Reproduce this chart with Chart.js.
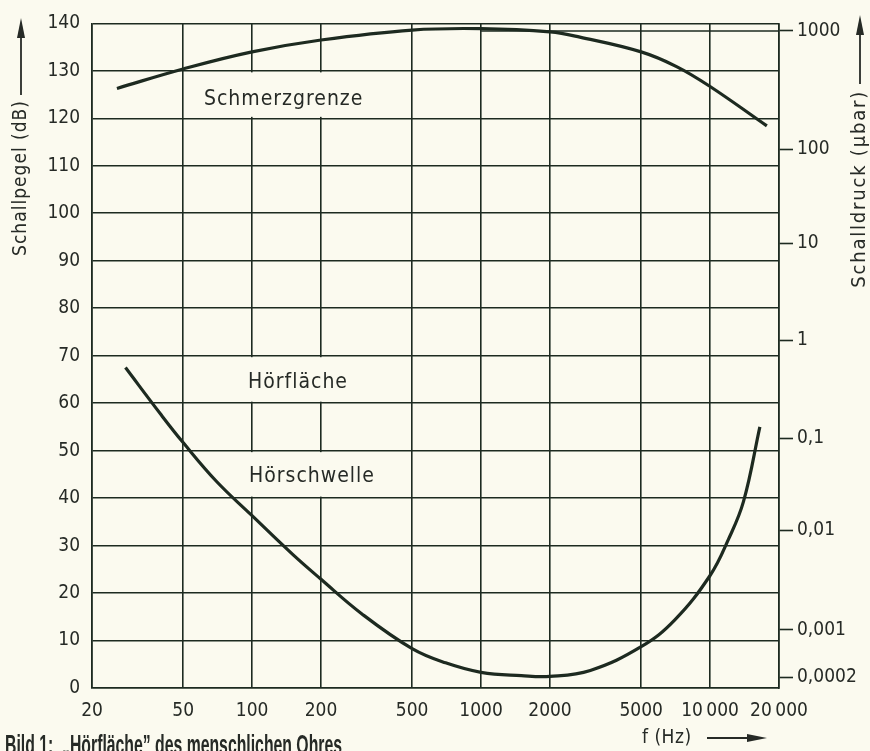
<!DOCTYPE html>
<html>
<head>
<meta charset="utf-8">
<script src="https://cdn.jsdelivr.net/npm/chart.js@4.4.0/dist/chart.umd.min.js"></script>
<style>
  html, body { margin: 0; padding: 0; background: #fbfaef; }
  #wrap { width: 870px; height: 751px; }
</style>
</head>
<body>
<div id="wrap"><canvas id="hoerflaeche" width="870" height="751"></canvas></div>
<script>
// Frequenzachse (log), Pegel links, Schalldruck rechts
const freqTicks = [20, 50, 100, 200, 500, 1000, 2000, 5000, 10000, 20000];
const freqLabels = ['20', '50', '100', '200', '500', '1000', '2000', '5000', '10\u2009000', '20\u2009000'];
const levelTicks = [0, 10, 20, 30, 40, 50, 60, 70, 80, 90, 100, 110, 120, 130, 140];
const pressureTicksDb = [2.3, 12.3, 33.2, 52.6, 73.3, 93.7, 113.5, 138.4];
const pressureLabels = ['0,0002', '0,001', '0,01', '0,1', '1', '10', '100', '1000'];

// Schmerzgrenze
const schmerzFreq = [25.7, 50, 100, 200, 500, 1000, 2000, 2700, 5000, 7140, 10000, 17700];
const schmerzDb = [126.3, 130.4, 134, 136.5, 138.6, 138.9, 138.2, 137.1, 134, 130.9, 126.7, 118.4];

// Hörschwelle
const schwelleFreq = [28, 40, 50, 70, 100, 150, 200, 300, 500, 700, 1000, 1500, 2000, 3000, 5000, 7000, 10000, 12000, 14000, 16500];
const schwelleDb = [67.5, 57.6, 51.7, 43.5, 36.3, 28.2, 22.9, 15.7, 8.3, 5.3, 3.3, 2.6, 2.45, 3.7, 8.7, 14.3, 23.7, 31.2, 39.3, 55];

const bg = '#fbfaef';
const ink = '#1d2a20';
const textInk = '#262a26';
const fontFam = "'DejaVu Sans Condensed', 'DejaVu Sans', sans-serif";

function toPoints(xs, ys) {
    return xs.map(function(x, i) { return { x: x, y: ys[i] }; });
}

function arrow(ctx, x1, y1, x2, y2) {
    const ang = Math.atan2(y2 - y1, x2 - x1);
    const len = 20, half = 4;
    ctx.beginPath();
    ctx.moveTo(x1, y1);
    ctx.lineTo(x2 - Math.cos(ang) * len * 0.8, y2 - Math.sin(ang) * len * 0.8);
    ctx.stroke();
    ctx.beginPath();
    ctx.moveTo(x2, y2);
    ctx.lineTo(x2 - Math.cos(ang) * len - Math.sin(ang) * half, y2 - Math.sin(ang) * len + Math.cos(ang) * half);
    ctx.lineTo(x2 - Math.cos(ang) * len + Math.sin(ang) * half, y2 - Math.sin(ang) * len - Math.cos(ang) * half);
    ctx.closePath();
    ctx.fill();
}

const decorations = {
    id: 'decorations',
    beforeDraw(chart) {
        const ctx = chart.ctx;
        ctx.save();
        ctx.fillStyle = bg;
        ctx.fillRect(0, 0, chart.width, chart.height);
        ctx.restore();
    },
    beforeDatasetsDraw(chart) {
        const ctx = chart.ctx;
        const x = chart.scales.x, y = chart.scales.y, y2 = chart.scales.y2;
        ctx.save();
        // Lücken im Raster hinter den Beschriftungen
        ctx.fillStyle = bg;
        [[120, 130], [60, 70], [40, 50]].forEach(function(b) {
            const top = y.getPixelForValue(b[1]) + 1.5;
            const bot = y.getPixelForValue(b[0]) - 1.5;
            const l = x.getPixelForValue(60), r = x.getPixelForValue(330);
            ctx.fillRect(l, top, r - l, bot - top);
        });
        // Linie bei 1000 µbar
        ctx.strokeStyle = ink;
        ctx.lineWidth = 1.6;
        const yy = y2.getPixelForValue(pressureTicksDb[pressureTicksDb.length - 1]);
        ctx.beginPath();
        ctx.moveTo(x.getPixelForValue(1000), yy);
        ctx.lineTo(chart.chartArea.right, yy);
        ctx.stroke();
        ctx.restore();
    },
    afterDatasetsDraw(chart) {
        const ctx = chart.ctx;
        const x = chart.scales.x, y = chart.scales.y;
        ctx.save();
        ctx.fillStyle = textInk;
        ctx.strokeStyle = textInk;
        ctx.lineWidth = 1.8;

        // Beschriftungen im Diagramm
        ctx.font = '21px ' + fontFam;
        ctx.letterSpacing = '1px';
        ctx.textBaseline = 'alphabetic';
        ctx.textAlign = 'left';
        ctx.fillText('Schmerzgrenze', x.getPixelForValue(61.6), y.getPixelForValue(122.8));
        ctx.fillText('Hörfläche', x.getPixelForValue(96), y.getPixelForValue(63.1));
        ctx.fillText('Hörschwelle', x.getPixelForValue(97), y.getPixelForValue(43.4));

        // Achsentitel links
        ctx.font = '19px ' + fontFam;
        ctx.letterSpacing = '1px';
        ctx.save();
        ctx.translate(21, 0);
        ctx.rotate(-Math.PI / 2);
        ctx.textAlign = 'right';
        ctx.textBaseline = 'middle';
        ctx.fillText('Schallpegel (dB)', -100, 0);
        arrow(ctx, -95, 0, -18, 0);
        ctx.restore();

        // Achsentitel rechts
        ctx.font = '20px ' + fontFam;
        ctx.letterSpacing = '1.8px';
        ctx.save();
        ctx.translate(860, 0);
        ctx.rotate(-Math.PI / 2);
        ctx.textAlign = 'right';
        ctx.textBaseline = 'middle';
        ctx.fillText('Schalldruck (\u00b5bar)', -90, 0);
        arrow(ctx, -84, 0, -15, 0);
        ctx.restore();

        // Frequenzachse
        ctx.font = '19px ' + fontFam;
        ctx.letterSpacing = '0.5px';
        ctx.textAlign = 'left';
        ctx.textBaseline = 'middle';
        ctx.fillText('f (Hz)', 642, 738);
        arrow(ctx, 707, 738, 767, 738);

        // Bildunterschrift
        ctx.letterSpacing = '0px';
        ctx.font = 'bold 27px "Liberation Sans", Arial, sans-serif';
        ctx.textBaseline = 'alphabetic';
        const cap = 'Bild 1:  \u201eHörfläche\u201d des menschlichen Ohres';
        const w = ctx.measureText(cap).width;
        ctx.save();
        ctx.translate(5, 754);
        ctx.scale(337 / w, 1);
        ctx.fillText(cap, 0, 0);
        ctx.restore();

        ctx.restore();
    }
};

new Chart(document.getElementById('hoerflaeche'), {
    type: 'scatter',
    data: {
        datasets: [{
            label: 'Schmerzgrenze',
            data: toPoints(schmerzFreq, schmerzDb),
            showLine: true,
            borderColor: ink,
            borderWidth: 3.2,
            pointRadius: 0,
            tension: 0.4,
            yAxisID: 'y',
        }, {
            label: 'Hörschwelle',
            data: toPoints(schwelleFreq, schwelleDb),
            showLine: true,
            borderColor: ink,
            borderWidth: 3.2,
            pointRadius: 0,
            tension: 0.4,
            yAxisID: 'y',
        }]
    },
    options: {
        responsive: false,
        animation: false,
        devicePixelRatio: 1,
        layout: { padding: { top: 14, left: 0, right: 0, bottom: 0 } },
        plugins: {
            legend: { display: false },
            tooltip: { enabled: false },
        },
        scales: {
            x: {
                type: 'logarithmic',
                min: 20,
                max: 20000,
                afterBuildTicks: function(scale) {
                    scale.ticks = freqTicks.map(function(v) { return { value: v }; });
                },
                afterFit: function(scale) { scale.height = 63; },
                grid: { color: ink, lineWidth: 1.6, drawTicks: false },
                border: { display: true, color: ink, width: 1.6 },
                ticks: {
                    autoSkip: false,
                    maxRotation: 0,
                    padding: 12,
                    color: textInk,
                    font: { family: fontFam, size: 19 },
                    callback: function(value) {
                        return freqLabels[freqTicks.indexOf(value)];
                    }
                }
            },
            y: {
                type: 'linear',
                position: 'left',
                min: 0,
                max: 140,
                afterBuildTicks: function(scale) {
                    scale.ticks = levelTicks.map(function(v) { return { value: v }; });
                },
                afterFit: function(scale) { scale.width = 92; },
                grid: { color: ink, lineWidth: 1.6, drawTicks: false },
                border: { display: true, color: ink, width: 1.6 },
                ticks: {
                    padding: 12,
                    color: textInk,
                    font: { family: fontFam, size: 19 },
                }
            },
            y2: {
                type: 'linear',
                position: 'right',
                min: 0,
                max: 140,
                afterBuildTicks: function(scale) {
                    scale.ticks = pressureTicksDb.map(function(v) { return { value: v }; });
                },
                afterFit: function(scale) { scale.width = 91; },
                grid: { drawOnChartArea: false, drawTicks: true, tickLength: 14, tickColor: ink, tickWidth: 1.6 },
                border: { display: true, color: ink, width: 1.6 },
                ticks: {
                    padding: 4,
                    color: textInk,
                    font: { family: fontFam, size: 19 },
                    callback: function(value, index) {
                        return pressureLabels[index];
                    }
                }
            }
        }
    },
    plugins: [decorations]
});
</script>
</body>
</html>
